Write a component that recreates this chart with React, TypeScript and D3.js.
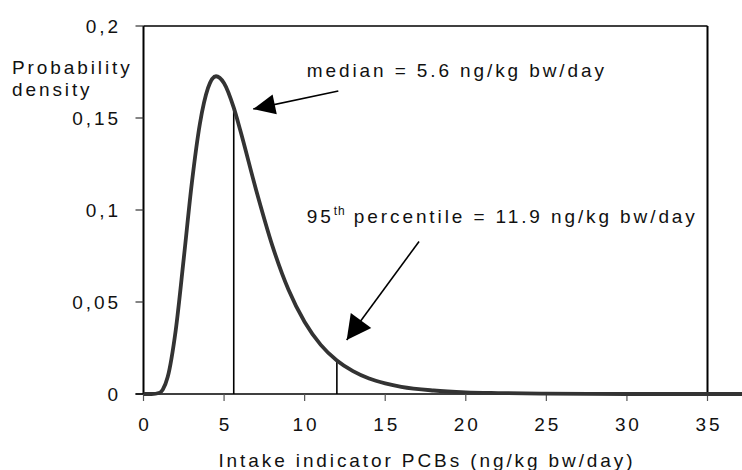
import React from "react";
import * as d3 from "d3";

// Probability density curve (x in ng/kg bw/day)
const curveX = [0, 0.5, 1, 1.2, 1.5, 2, 2.5, 3, 3.5, 4, 4.5, 5, 5.6, 6, 7, 8, 9, 10, 11, 12, 13, 14, 15, 16, 18, 20, 22, 25, 30, 37.5];
const curveY = [0, 0, 0.0007, 0.0025, 0.0092, 0.0347, 0.0738, 0.1147, 0.1469, 0.1662, 0.1727, 0.1689, 0.1556, 0.1435, 0.1105, 0.0805, 0.0566, 0.0391, 0.0267, 0.0182, 0.0124, 0.0084, 0.0058, 0.0039, 0.0019, 0.0009, 0.0005, 0.0002, 0, 0];

const xTicks = [0, 5, 10, 15, 20, 25, 30, 35];
const yTicks = [0, 0.05, 0.1, 0.15, 0.2];
const yTickLabels = ["0", "0,05", "0,1", "0,15", "0,2"];

const medianValue = 5.6;
const p95Value = 12.0;

// annotation anchors in data units
const medianText = { x: 10.13, y: 0.1721, label: "median = 5.6 ng/kg bw/day" };
const medianArrow = { x1: 12.09, y1: 0.1647, x2: 6.81, y2: 0.1549 };
const p95Text = { x: 10.13, y: 0.0928 };
const p95Arrow = { x1: 17.1, y1: 0.0829, x2: 12.61, y2: 0.0293 };

const W = 742;
const H = 470;
const FONT = "'Liberation Sans', Arial, sans-serif";
const FS = 19;
const LS = 2.9;

export default function App() {
  const x = d3.scaleLinear().domain([0, 35]).range([143.5, 707.5]);
  const y = d3.scaleLinear().domain([0, 0.2]).range([394, 26]);

  const pts = curveX.map((v, i) => [v, curveY[i]] as [number, number]);
  const line = d3
    .line<[number, number]>()
    .x((d) => x(d[0]))
    .y((d) => y(d[1]))
    .curve(d3.curveMonotoneX);

  const densityAt = (v: number) => {
    const i = curveX.findIndex((c) => c >= v);
    if (i <= 0) return curveY[0];
    const t = (v - curveX[i - 1]) / (curveX[i] - curveX[i - 1]);
    return curveY[i - 1] + t * (curveY[i] - curveY[i - 1]);
  };

  const textStyle = { fontFamily: FONT, fontSize: FS, letterSpacing: LS, fill: "#111" } as any;

  return (
    <svg width={W} height={H} style={{ position: "absolute", left: 0, top: 0, background: "#fff" }}>
      <defs>
        <marker id="ah1" markerUnits="userSpaceOnUse" markerWidth="30" markerHeight="30" refX="19" refY="0" viewBox="-2 -12 26 24" orient="auto">
          <path d="M0,-8.7 L19,0 L0,8.7 Z" fill="#000" />
        </marker>
        <marker id="ah2" markerUnits="userSpaceOnUse" markerWidth="30" markerHeight="30" refX="21" refY="0" viewBox="-2 -13 26 26" orient="auto">
          <path d="M0,-11 L21,0 L0,11 Z" fill="#000" />
        </marker>
      </defs>

      {/* frame: top and right */}
      <line x1={x(0)} x2={x(35)} y1={y(0.2)} y2={y(0.2)} stroke="#000" strokeWidth={1.5} />
      <line x1={x(35)} x2={x(35)} y1={y(0.2)} y2={y(0)} stroke="#000" strokeWidth={2} />

      {/* y axis */}
      <line x1={x(0)} x2={x(0)} y1={y(0.2)} y2={y(0)} stroke="#000" strokeWidth={2} />
      {yTicks.map((t, i) => (
        <g key={"yt" + i}>
          <line x1={x(0) - 8} x2={x(0)} y1={y(t)} y2={y(t)} stroke="#333" strokeWidth={1.2} />
          <text x={118 + LS} y={y(t)} dy="0.35em" textAnchor="end" style={textStyle}>
            {yTickLabels[i]}
          </text>
        </g>
      ))}

      {/* x axis */}
      <line x1={x(0) - 8} x2={W} y1={y(0)} y2={y(0)} stroke="#000" strokeWidth={1.5} />
      {xTicks.map((t) => (
        <g key={"xt" + t}>
          <line x1={x(t)} x2={x(t)} y1={y(0)} y2={y(0) + 7} stroke="#555" strokeWidth={1.2} />
          <text x={x(t) + LS / 2} y={y(0) + 30} dy="0.35em" textAnchor="middle" style={textStyle}>
            {t}
          </text>
        </g>
      ))}

      {/* axis titles */}
      <text x={12} y={74} style={textStyle}>Probability</text>
      <text x={12} y={96} style={textStyle}>density</text>
      <text x={(x(0) + x(35)) / 2 + LS / 2} y={467} textAnchor="middle" style={textStyle}>
        Intake indicator PCBs (ng/kg bw/day)
      </text>

      {/* percentile lines */}
      <line x1={x(medianValue)} x2={x(medianValue)} y1={y(0)} y2={y(densityAt(medianValue))} stroke="#000" strokeWidth={1.6} />
      <line x1={x(p95Value)} x2={x(p95Value)} y1={y(0)} y2={y(densityAt(p95Value))} stroke="#000" strokeWidth={1.6} />

      {/* curve */}
      <path d={line(pts) || ""} fill="none" stroke="#333" strokeWidth={3.8} strokeLinejoin="round" />

      {/* annotations */}
      <text x={x(medianText.x)} y={y(medianText.y)} style={textStyle}>{medianText.label}</text>
      <line x1={x(medianArrow.x1)} y1={y(medianArrow.y1)} x2={x(medianArrow.x2)} y2={y(medianArrow.y2)} stroke="#000" strokeWidth={1.6} markerEnd="url(#ah1)" />

      <text x={x(p95Text.x)} y={y(p95Text.y)} style={textStyle}>
        95
        <tspan fontSize={12} dy={-8} letterSpacing={1}>th</tspan>
        <tspan dy={8}> percentile = 11.9 ng/kg bw/day</tspan>
      </text>
      <line x1={x(p95Arrow.x1)} y1={y(p95Arrow.y1)} x2={x(p95Arrow.x2)} y2={y(p95Arrow.y2)} stroke="#000" strokeWidth={1.6} markerEnd="url(#ah2)" />
    </svg>
  );
}
